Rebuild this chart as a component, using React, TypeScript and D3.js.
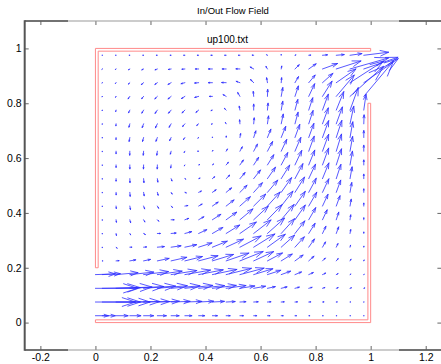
import React, { useEffect, useRef } from 'react';
import * as d3 from 'd3';

// grid of the flow field (cell centres)
const GRID_X = [0.025, 0.075, 0.125, 0.175, 0.225, 0.275, 0.325, 0.375, 0.425, 0.475,
  0.525, 0.575, 0.625, 0.675, 0.725, 0.775, 0.825, 0.875, 0.925, 0.975];
const GRID_Y = [0.975, 0.925, 0.875, 0.825, 0.775, 0.725, 0.675, 0.625, 0.575, 0.525,
  0.475, 0.425, 0.375, 0.325, 0.275, 0.225, 0.175, 0.125, 0.075, 0.025];

// speed per grid point, rows top -> bottom (quiver units)
const SPEED = [
  [0.3, 0.5, 0.7, 0.8, 1, 1, 1.2, 1.3, 1.5, 1.5, 1.5, 1.5, 1, 0.8, 1, 2, 5, 8, 12, 25],
  [0.5, 0.8, 1.5, 2, 2.5, 2.8, 3, 3.3, 4, 4, 4, 4, 3, 3, 6, 9, 16, 26, 40, 36],
  [0.5, 1, 2, 3, 3, 3.5, 4, 4, 4, 4.5, 4, 4.5, 5, 5, 7, 10, 14, 24, 40, 42],
  [0.5, 1, 3, 3, 3.5, 4, 4, 4, 3, 3.5, 4.5, 5, 7, 9, 11, 14, 18, 28, 45, 46],
  [0.5, 1.5, 3, 3.5, 4, 4, 4, 3.5, 1.5, 2.5, 4, 6, 7, 9, 11, 13, 17, 20, 24, 16],
  [0.5, 2, 3.5, 4, 4.5, 4, 3.5, 2.5, 1, 1.5, 4, 6, 8, 10, 12, 14, 17, 18, 18, 9],
  [0.5, 2, 4, 4, 4, 3.5, 2.5, 1, 0.5, 1.5, 4, 7, 9, 12, 14, 15, 18, 18, 16, 7],
  [0.5, 2.5, 4, 4, 4, 3, 1.5, 1, 1, 2.5, 5, 8, 11, 13, 15, 16, 18, 18, 15, 6],
  [0.5, 2.5, 4, 4, 4, 3, 1, 1, 1.5, 3.5, 6, 9, 12, 14, 16, 16, 18, 17, 14, 5],
  [0.5, 2.5, 4, 4, 3.5, 2.5, 1, 1.5, 3, 5, 8, 11, 14, 16, 17, 16, 17, 15, 12, 4.5],
  [0.5, 2.5, 4, 3.5, 3, 2, 1.5, 3, 4.5, 7, 10, 13, 16, 18, 18, 16, 15, 13, 10, 3.5],
  [0.5, 2.5, 3.5, 3, 2.5, 2, 3, 4, 7, 10, 14, 17, 19, 19, 18, 16, 13, 11, 7, 3],
  [0.5, 2.5, 3, 2.5, 2, 3, 4, 6, 10, 13, 17, 20, 21, 20, 18, 14, 11, 8, 5, 2],
  [0.5, 2, 1.5, 2, 3, 5, 7, 9, 12, 16, 20, 22, 23, 20, 16, 12, 8, 7, 4, 1.5],
  [0.5, 1.5, 2, 3, 7, 10, 12, 14, 16, 19, 24, 25, 22, 18, 14, 10, 6, 4, 2, 1],
  [0.5, 3, 6, 7, 12, 16, 18, 20, 22, 24, 25, 22, 17, 13, 10, 7, 4, 3, 2, 1],
  [18, 22, 24, 25, 25, 26, 26, 25, 25, 26, 25, 20, 14, 10, 7, 5, 3.5, 2, 1, 0.5],
  [38, 36, 34, 32, 30, 29, 28, 26, 24, 20, 15, 12, 8, 6, 4.5, 3.5, 2.5, 2, 1.5, 1],
  [38, 34, 30, 26, 22, 19, 17, 15, 12, 9, 6, 4.5, 3.5, 3, 2.5, 2, 1.5, 1, 0.5, 0.3],
  [13, 12, 11, 10, 9, 8, 7, 6, 5, 4, 3.5, 3, 2.5, 2, 1.5, 1, 0.7, 0.5, 0.4, 0.3],
];

// flow direction in degrees (0 = +x, 90 = +y), rows top -> bottom
const ANGLE = [
  [180, 180, 180, 180, 180, 180, 180, 180, 180, 180, 180, 175, 150, 90, 20, 5, 5, 5, 8, 7],
  [220, 215, 210, 205, 200, 190, 185, 180, 180, 180, 178, 150, 120, 80, 45, 35, 20, 18, 16, 19],
  [235, 230, 225, 220, 215, 210, 195, 185, 180, 178, 160, 135, 100, 85, 60, 50, 42, 35, 33, 35],
  [245, 240, 235, 230, 225, 220, 212, 195, 180, 150, 120, 95, 88, 80, 72, 65, 58, 50, 42, 50],
  [260, 255, 245, 240, 235, 230, 225, 220, 200, 135, 100, 90, 85, 80, 75, 72, 70, 68, 70, 82],
  [265, 265, 255, 250, 245, 240, 230, 220, 200, 120, 95, 85, 82, 78, 75, 72, 70, 70, 78, 88],
  [268, 268, 260, 255, 250, 245, 235, 220, 90, 85, 80, 72, 68, 68, 70, 70, 70, 72, 80, 90],
  [270, 270, 268, 265, 262, 255, 240, 180, 60, 60, 62, 62, 62, 65, 67, 70, 70, 73, 80, 90],
  [270, 270, 270, 268, 268, 262, 240, 20, 40, 50, 55, 57, 58, 62, 65, 68, 70, 72, 80, 90],
  [270, 270, 272, 275, 278, 290, 330, 20, 40, 45, 50, 52, 55, 58, 62, 65, 68, 72, 80, 90],
  [270, 272, 275, 280, 285, 300, 340, 25, 35, 40, 45, 48, 50, 55, 58, 62, 65, 70, 80, 90],
  [270, 275, 280, 290, 300, 315, 10, 30, 35, 38, 42, 45, 48, 52, 55, 60, 65, 70, 80, 90],
  [270, 278, 285, 300, 315, 0, 20, 30, 33, 36, 40, 43, 46, 50, 55, 60, 65, 72, 82, 90],
  [270, 280, 300, 330, 0, 5, 15, 25, 30, 32, 35, 38, 42, 48, 52, 58, 65, 70, 80, 90],
  [270, 315, 0, 5, 5, 8, 12, 18, 22, 25, 28, 32, 36, 42, 48, 55, 60, 65, 75, 85],
  [0, 5, 10, 12, 12, 13, 14, 15, 17, 19, 22, 25, 28, 32, 36, 42, 45, 50, 60, 70],
  [3, 5, 6, 7, 8, 9, 10, 11, 12, 14, 15, 17, 18, 20, 22, 24, 25, 28, 30, 30],
  [1, 2, 3, 4, 5, 5, 6, 6, 7, 8, 9, 10, 12, 14, 15, 16, 18, 20, 20, 20],
  [0, 0, 1, 1, 2, 2, 2, 3, 3, 3, 3, 3, 4, 4, 4, 4, 5, 5, 5, 5],
  [0, 0, 0, 0, 0, 0, 0, 0, 0, 0, 0, 0, 0, 0, 0, 0, 0, 0, 0, 0],
];

// inflow boundary at x = 0
const INLET_Y = [0.175, 0.125, 0.075, 0.025];
const INLET_SPEED = [20, 42, 40, 13];
const INLET_ANGLE = [2, 0, 0, 0];

// walls (outline polygons)
const WALL_UPPER: [number, number][] = [[0, 0.2], [0, 1], [1, 1], [1, 0.99], [0.01, 0.99], [0.01, 0.2]];
const WALL_LOWER: [number, number][] = [[1, 0.8], [1, 0], [0, 0], [0, 0.01], [0.99, 0.01], [0.99, 0.8]];

const X_TICKS = [-0.2, 0, 0.2, 0.4, 0.6, 0.8, 1, 1.2];
const Y_TICKS = [0, 0.2, 0.4, 0.6, 0.8, 1];

const TITLE = 'In/Out Flow Field';
const LABEL = 'up100.txt';

export default function App() {
  const svgRef = useRef<SVGSVGElement | null>(null);

  useEffect(() => {
    if (!svgRef.current) return;
    const svg = d3.select(svgRef.current);
    svg.selectAll('*').remove();

    const width = 441;
    const height = 364;
    const left = 24.7, right = 441.4, top = 21, bottom = 350;
    const font = '"Liberation Sans", Arial, Helvetica, sans-serif';

    const x = d3.scaleLinear().domain([-0.257, 1.257]).range([left, right]);
    const y = d3.scaleLinear().domain([-0.1, 1.1]).range([bottom, top]);
    const k = 1 / 275; // quiver scale: speed unit -> data units

    svg.append('rect').attr('width', width).attr('height', height).attr('fill', '#fff');

    // walls
    const wall = d3.line<[number, number]>().x(d => x(d[0])).y(d => y(d[1]));
    [WALL_UPPER, WALL_LOWER].forEach(w => {
      svg.append('path')
        .attr('d', wall(w) + 'Z')
        .attr('fill', 'none')
        .attr('stroke', '#ff8a8a')
        .attr('stroke-width', 1);
    });

    // arrows
    type Arrow = { x: number; y: number; s: number; a: number };
    const arrows: Arrow[] = [];
    GRID_Y.forEach((gy, j) => {
      GRID_X.forEach((gx, i) => {
        arrows.push({ x: gx, y: gy, s: SPEED[j][i], a: ANGLE[j][i] });
      });
    });
    INLET_Y.forEach((iy, j) => {
      arrows.push({ x: 0, y: iy, s: INLET_SPEED[j], a: INLET_ANGLE[j] });
    });

    const alpha = 0.33, beta = 0.33;
    const arrowPath = (d: Arrow) => {
      const u = d.s * k * Math.cos((d.a * Math.PI) / 180);
      const v = d.s * k * Math.sin((d.a * Math.PI) / 180);
      const tx = d.x + u, ty = d.y + v;
      const h1x = tx - alpha * (u + beta * v), h1y = ty - alpha * (v - beta * u);
      const h2x = tx - alpha * (u - beta * v), h2y = ty - alpha * (v + beta * u);
      return `M${x(d.x)},${y(d.y)}L${x(tx)},${y(ty)}` +
        `M${x(h1x)},${y(h1y)}L${x(tx)},${y(ty)}L${x(h2x)},${y(h2y)}`;
    };

    svg.append('g')
      .selectAll('path')
      .data(arrows)
      .join('path')
        .attr('d', arrowPath)
        .attr('fill', 'none')
        .attr('stroke', '#2f2fff')
        .attr('stroke-width', 0.95)
        .attr('stroke-linecap', 'round')
        .attr('stroke-opacity', 0.85);

    // axes
    const fmt = (d: d3.NumberValue) => String(+d);
    const gb = svg.append('g')
      .attr('transform', `translate(0,${bottom})`)
      .call(d3.axisBottom(x).tickValues(X_TICKS).tickSize(-4).tickPadding(4).tickFormat(fmt));
    const gt = svg.append('g')
      .attr('transform', `translate(0,${top})`)
      .call(d3.axisTop(x).tickValues(X_TICKS).tickSize(-4).tickFormat(() => ''));
    const gl = svg.append('g')
      .attr('transform', `translate(${left},0)`)
      .call(d3.axisLeft(y).tickValues(Y_TICKS).tickSize(-4).tickPadding(3).tickFormat(fmt));
    const gr = svg.append('g')
      .attr('transform', `translate(${right},0)`)
      .call(d3.axisRight(y).tickValues(Y_TICKS).tickSize(-4).tickFormat(() => ''));

    [gb, gt, gl, gr].forEach(g => {
      g.select('.domain').remove();
      g.selectAll('.tick line').attr('stroke', '#666');
      g.selectAll('text')
        .attr('fill', '#000')
        .style('font-family', font)
        .style('font-size', '10.5px');
    });

    // box
    const axisLine = (x1: number, y1: number, x2: number, y2: number, c: string, w: number) =>
      svg.append('line')
        .attr('x1', x1).attr('y1', y1).attr('x2', x2).attr('y2', y2)
        .attr('stroke', c).attr('stroke-width', w);
    axisLine(left, top, right, top, '#999', 1);
    axisLine(left, bottom, right, bottom, '#999', 1);
    axisLine(left, top, 68, top, '#555', 1.6);
    axisLine(399, top, right, top, '#555', 1.6);
    axisLine(left, bottom, 68, bottom, '#555', 1.6);
    axisLine(399, bottom, right, bottom, '#555', 1.6);
    axisLine(left, top - 0.8, left, bottom + 0.8, '#555', 2);

    // titles
    svg.append('text')
      .attr('x', 233).attr('y', 14)
      .attr('text-anchor', 'middle')
      .style('font-family', font).style('font-size', '9.5px')
      .text(TITLE);
    svg.append('text')
      .attr('x', x(0.48)).attr('y', y(1.018))
      .attr('text-anchor', 'middle')
      .style('font-family', font).style('font-size', '10px')
      .text(LABEL);
  }, []);

  return (
    <svg ref={svgRef} width={441} height={364}
      style={{ position: 'absolute', left: 0, top: 0, display: 'block' }} />
  );
}
